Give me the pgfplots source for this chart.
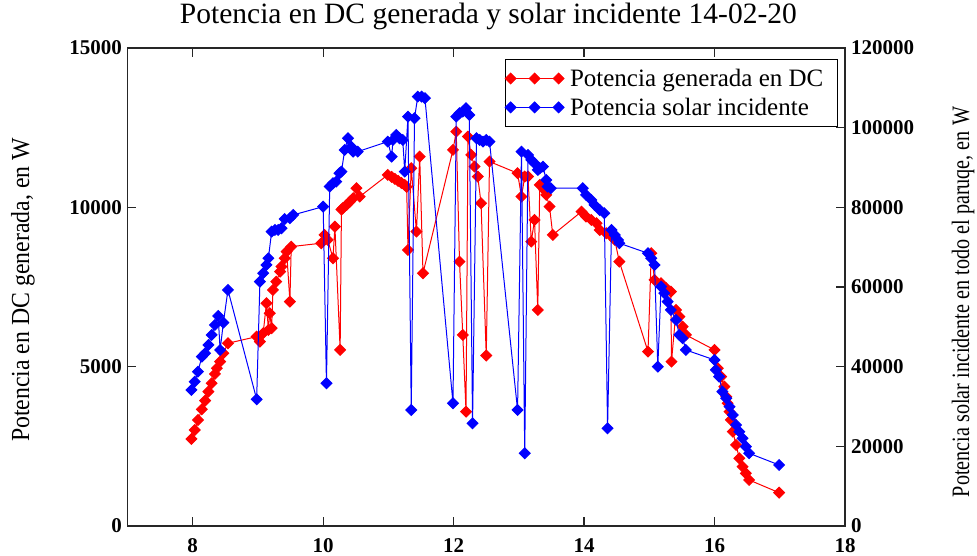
\documentclass[border=0pt]{standalone}
\usepackage{fontspec}
\setmainfont{Liberation Serif}
\usepackage{pgfplots}
\usepackage{pgfplotstable}
\pgfplotsset{compat=1.18}

\definecolor{mred}{RGB}{255,0,0}
\definecolor{mblue}{RGB}{0,0,255}

\pgfplotstableread{
h p
7.98 2731
8.03 3013
8.08 3327
8.14 3662
8.19 3933
8.24 4216
8.29 4479
8.34 4771
8.37 4950
8.42 5157
8.47 5421
8.54 5735
8.98 5942
9.03 5785
9.08 6049
9.13 6990
9.16 6152
9.18 6677
9.21 6206
9.23 7408
9.28 7669
9.34 7983
9.36 8140
9.41 8403
9.44 8610
9.49 7041
9.51 8767
9.97 8874
10.02 9135
10.07 8978
10.15 8403
10.18 9395
10.26 5525
10.28 9930
10.30 9973
10.36 10076
10.41 10180
10.46 10287
10.51 10600
10.56 10337
10.99 11018
11.05 10955
11.10 10893
11.15 10830
11.20 10767
11.25 10704
11.28 10641
11.30 8664
11.35 11228
11.43 9238
11.48 11592
11.53 7932
11.99 11803
12.04 12377
12.09 8297
12.14 5996
12.19 3588
12.22 12220
12.27 11646
12.32 11279
12.37 10965
12.42 10130
12.50 5350
12.55 11436
12.98 11071
13.04 10337
13.09 10965
13.14 10965
13.19 8924
13.24 9605
13.29 6780
13.32 10704
13.39 10547
13.42 10390
13.47 10023
13.52 9135
13.96 9866
14.03 9709
14.11 9605
14.19 9502
14.24 9291
14.34 9188
14.42 9081
14.47 8978
14.54 8297
14.98 5472
15.03 8560
15.08 7722
15.18 7618
15.26 7461
15.33 7355
15.34 5157
15.41 6780
15.46 6570
15.51 6256
15.56 5996
16.00 5525
16.05 4950
16.10 4687
16.15 4373
16.18 4059
16.20 3852
16.23 3588
16.25 3328
16.28 2960
16.33 2543
16.38 2125
16.43 1861
16.48 1654
16.53 1444
16.99 1045
}\dcdata

\pgfplotstableread{
h s
7.98 34150
8.03 36233
8.08 38745
8.14 42511
8.19 43364
8.24 45449
8.29 47960
8.34 50471
8.39 52731
8.42 44194
8.47 51049
8.54 59260
8.98 31814
9.03 61344
9.08 63454
9.13 65537
9.16 67220
9.21 73898
9.26 74326
9.31 74326
9.36 74752
9.41 77056
9.49 77263
9.54 78092
10.00 80177
10.05 35833
10.10 85199
10.15 86053
10.20 86455
10.25 88564
10.28 88966
10.33 94414
10.38 97352
10.43 95243
10.46 93987
10.53 93987
10.99 96499
11.05 92732
11.07 96925
11.12 98180
11.17 97352
11.22 96925
11.25 88966
11.30 102774
11.35 29128
11.40 102373
11.45 107797
11.51 107797
11.56 107395
11.99 30810
12.04 102774
12.09 103628
12.14 104030
12.19 104884
12.24 103202
12.29 25788
12.35 97352
12.40 96925
12.45 96499
12.50 96925
12.55 96499
12.98 29128
13.04 93987
13.09 18255
13.14 93158
13.19 91903
13.24 91074
13.29 89392
13.32 89819
13.37 90221
13.42 86881
13.44 85199
13.49 84798
13.98 84798
14.03 83114
14.11 81859
14.16 80603
14.24 79348
14.31 78519
14.36 24532
14.42 74326
14.47 73070
14.52 71815
14.54 70986
14.98 68475
15.03 67219
15.08 65537
15.13 40000
15.18 60088
15.23 58431
15.28 56322
15.33 54238
15.41 51727
15.46 47960
15.51 47131
15.56 44194
16.00 41683
16.02 39172
16.07 37489
16.12 33723
16.18 32066
16.23 29956
16.28 27872
16.33 25361
16.38 23679
16.43 22022
16.48 19912
16.53 18255
16.99 15317
}\soldata

\pgfplotsset{
  common/.style={
    scale only axis, width=717.5bp, height=478bp,
    at={(127.5bp,30bp)}, anchor=south west,
    xmin=7, xmax=18,
    scaled y ticks=false, scaled x ticks=false,
    /pgf/number format/fixed,
    /pgf/number format/precision=0,
    /pgf/number format/assume math mode=true,
    /pgf/number format/set thousands separator={},
    ticklabel style={font=\fontsize{21bp}{21bp}\selectfont\bfseries},
    major tick length=9bp,
    axis line style={line width=1.2bp, black!85},
    every tick/.style={line width=1.2bp, black!85},
    label style={font=\fontsize{25bp}{28bp}\selectfont},
  },
  mk/.style={line width=1bp, color=#1, mark=square*, mark size=3.8bp,
    mark options={rotate=45, solid, fill=#1, draw=#1}},
  legend image code/.code={\draw[mark repeat=1,#1] plot coordinates {(0bp,0bp) (24bp,0bp) (48bp,0bp)};},
}

\begin{document}
\begin{tikzpicture}
\path[use as bounding box] (0,0) rectangle (977bp,556bp);
\begin{axis}[common,
  ymin=0, ymax=15000,
  xtick={8,10,12,14,16,18}, ytick={0,5000,10000,15000},
  ytick pos=left, tick align=inside,
  xticklabel style={anchor=base, yshift=-26bp, inner sep=0pt},
  yticklabel style={anchor=east, xshift=-5.5bp, inner sep=0pt},
  title={Potencia en DC generada y solar incidente 14-02-20},
  title style={at={(axis description cs:0.503,1.0397)}, anchor=base, font=\fontsize{29.5bp}{30bp}\selectfont},
  ylabel={Potencia en DC generada, en W},
  ylabel style={at={(axis description cs:-0.1456,0.4937)}, anchor=center, xscale=0.915, font=\fontsize{26bp}{28bp}\selectfont},
]
\addplot[mk=mred] table[x=h, y=p] {\dcdata};
\end{axis}
\begin{axis}[common,
  ymin=0, ymax=120000,
  hide x axis, axis y line*=right, tick align=inside,
  ytick={0,20000,40000,60000,80000,100000,120000},
  yticklabel style={anchor=west, xshift=6bp, inner sep=0pt},
  ylabel={Potencia solar incidente en todo el paruqe, en W},
  ylabel style={at={(axis description cs:1.1645,0.4686)}, anchor=center, xscale=0.806, font=\fontsize{25bp}{26bp}\selectfont},
  legend style={at={(axis description cs:0.9902,0.977)}, anchor=north east,
    font=\fontsize{25bp}{26bp}\selectfont, draw=black, line width=1.2bp,
    inner xsep=0bp, inner ysep=4.5bp, row sep=0bp, column sep=1bp,
    nodes={inner sep=5bp, text depth=0.15em}},
  legend cell align=left,
]
\addlegendimage{mk=mred}
\addlegendentry{Potencia generada en DC\hspace*{9bp}}
\addplot[mk=mblue] table[x=h, y=s] {\soldata};
\addlegendentry{Potencia solar incidente}
\end{axis}
\end{tikzpicture}
\end{document}
